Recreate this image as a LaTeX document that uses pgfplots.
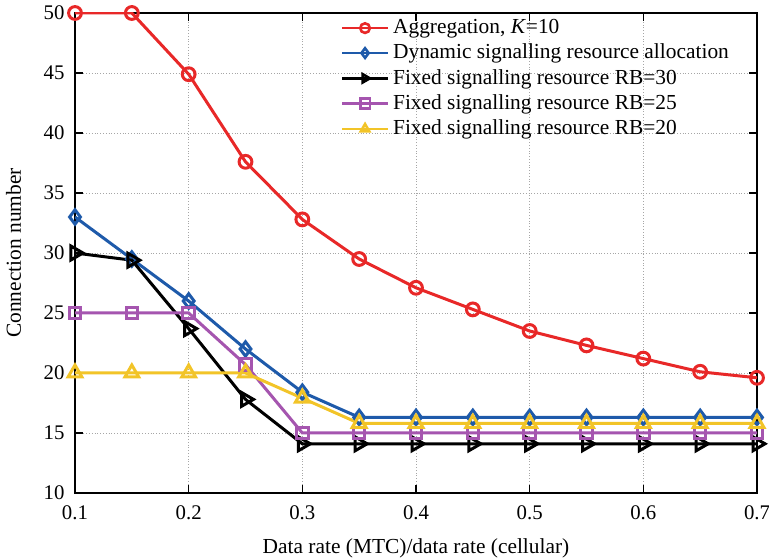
\documentclass[border=0pt]{standalone}
\usepackage{pgfplots}
\pgfplotsset{compat=1.18}
\usetikzlibrary{calc}
\usepackage{fontspec}
\setmainfont{Liberation Serif}
\definecolor{cred}{RGB}{232,40,40}
\definecolor{cblue}{RGB}{30,90,170}
\definecolor{cpurple}{RGB}{165,85,175}
\definecolor{cyellow}{RGB}{242,196,40}
\newcommand{\lf}{\fontsize{10.7pt}{12pt}\selectfont}
\begin{document}
\lf
\begin{tikzpicture}
\begin{axis}[
  scale only axis, width=341pt, height=240pt,
  xmin=0.1, xmax=0.7, ymin=10, ymax=50,
  xtick={0.1,0.2,...,0.7}, ytick={10,15,...,50},
  xticklabels={0.1,0.2,0.3,0.4,0.5,0.6,0.7},
  /pgf/number format/assume math mode=true,
  tick label style={font=\fontsize{10.4pt}{12pt}\selectfont},
  xticklabel style={yshift=-2.5pt},
  yticklabel style={xshift=-1.5pt},
  label style={font=\lf},
  xlabel={Data rate (MTC)/data rate (cellular)},
  ylabel={Connection number},
  xlabel style={yshift=-2pt},
  ylabel style={yshift=4pt},
  grid=major, major grid style={gray!70, densely dotted, line width=0.4pt},
  axis line style={line width=1pt}, tick style={line width=0.7pt, black},
  tick align=inside, major tick length=4pt,
  every axis plot/.append style={line width=1.5pt},
  every mark/.append style={line width=1.1pt},
  legend style={draw=none, fill=none, at={(0.39,0.995)}, anchor=north west,
    font=\lf, row sep=-0.4pt, inner sep=0pt, outer sep=0pt},
  legend cell align=left,
  legend image code/.code={\draw[mark repeat=2,mark phase=2,#1,line width=1.3pt,mark size=2.4pt] plot coordinates {(0cm,0cm) (0.4cm,0cm) (0.8cm,0cm)};},
]
\addplot[cred, mark=o, mark size=3.2pt] coordinates {
(0.1,50) (0.15,50) (0.2,44.9) (0.25,37.6) (0.3,32.8) (0.35,29.5) (0.4,27.1)
(0.45,25.3) (0.5,23.5) (0.55,22.3) (0.6,21.2) (0.65,20.1) (0.7,19.6)};
\addlegendentry{Aggregation, \textit{K}=10}
\addplot[cblue, mark=diamond, mark size=3.6pt] coordinates {
(0.1,33) (0.15,29.5) (0.2,26) (0.25,22) (0.3,18.4) (0.35,16.3) (0.4,16.3)
(0.45,16.3) (0.5,16.3) (0.55,16.3) (0.6,16.3) (0.65,16.3) (0.7,16.3)};
\addlegendentry{Dynamic signalling resource allocation}
\addplot[black, mark=triangle, mark size=4pt, mark options={rotate=-90}] coordinates {
(0.1,30) (0.15,29.4) (0.2,23.7) (0.25,17.8) (0.3,14.1) (0.35,14.1) (0.4,14.1)
(0.45,14.1) (0.5,14.1) (0.55,14.1) (0.6,14.1) (0.65,14.1) (0.7,14.1)};
\addlegendentry{Fixed signalling resource RB=30}
\addplot[cpurple, mark=square, mark size=2.9pt] coordinates {
(0.1,25) (0.15,25) (0.2,25) (0.25,20.7) (0.3,15) (0.35,15) (0.4,15)
(0.45,15) (0.5,15) (0.55,15) (0.6,15) (0.65,15) (0.7,15)};
\addlegendentry{Fixed signalling resource RB=25}
\addplot[cyellow, mark=triangle, mark size=4pt] coordinates {
(0.1,20) (0.15,20) (0.2,20) (0.25,20) (0.3,17.9) (0.35,15.8) (0.4,15.8)
(0.45,15.8) (0.5,15.8) (0.55,15.8) (0.6,15.8) (0.65,15.8) (0.7,15.8)};
\addlegendentry{Fixed signalling resource RB=20}
\end{axis}
\pgfresetboundingbox
\path[use as bounding box] ($(current axis.south west)+(-37.5pt,-33.5pt)$) rectangle ($(current axis.north east)+(6pt,6.5pt)$);
\end{tikzpicture}
\end{document}
